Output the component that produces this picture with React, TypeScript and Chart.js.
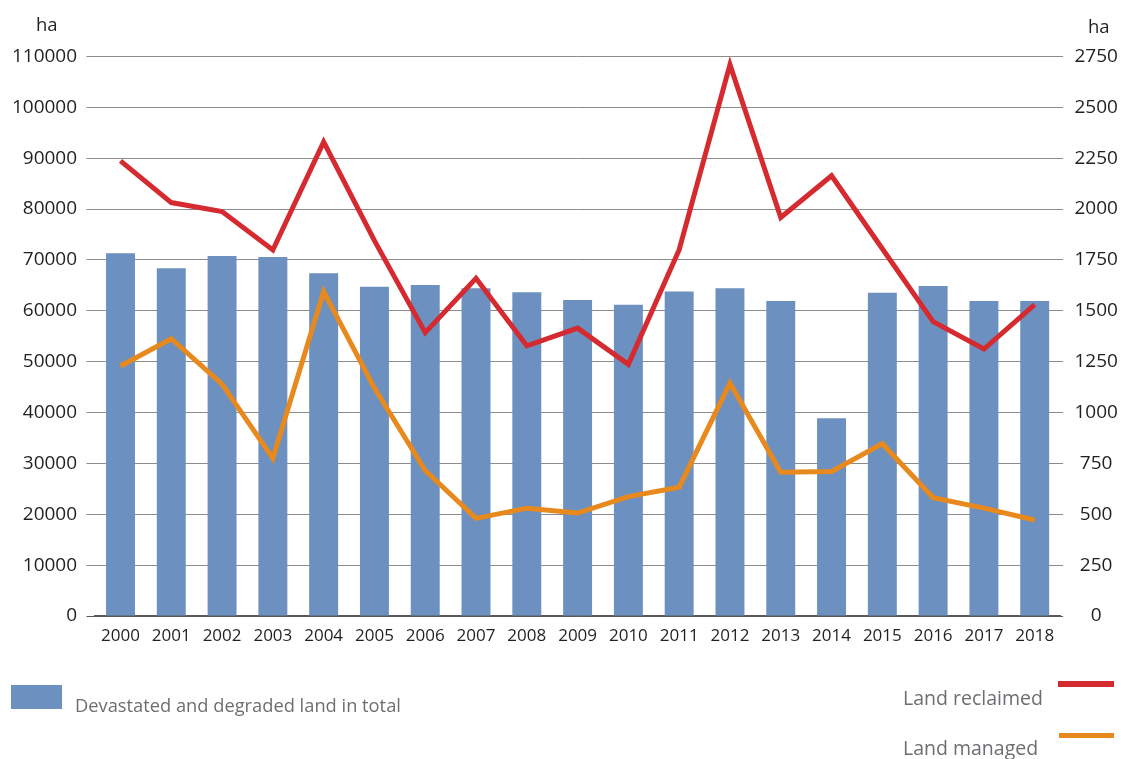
import React, { useEffect, useRef } from "react";
import { Chart, registerables } from "chart.js";

Chart.register(...registerables);

const years = ["2000", "2001", "2002", "2003", "2004", "2005", "2006", "2007", "2008", "2009", "2010", "2011", "2012", "2013", "2014", "2015", "2016", "2017", "2018"];
const devastatedLand = [71300, 68350, 70800, 70600, 67400, 64750, 65100, 64430, 63650, 62150, 61200, 63780, 64430, 61950, 38900, 63550, 64900, 61950, 61950];
const landReclaimed = [2237, 2032, 1988, 1799, 2330, 1845, 1393, 1660, 1328, 1415, 1237, 1800, 2710, 1959, 2164, 1805, 1447, 1312, 1530];
const landManaged = [1229, 1363, 1140, 775, 1595, 1120, 715, 480, 530, 506, 587, 633, 1145, 707, 710, 847, 582, 530, 472];

const leftMax = 110000;
const leftStep = 10000;
const rightMax = 2750;
const rightStep = 250;

const BAR_COLOR = "#6c90c0";
const RED = "#d52a30";
const ORANGE = "#e8891e";
const GRID = "#8c8c8c";
const AXIS = "#5a5a5a";
const TICK_TEXT = "#231f20";
const LEGEND_TEXT = "#6d6e71";
const FONT = "'Open Sans', 'Noto Sans', sans-serif";

export default function App() {
  const canvasRef = useRef<HTMLCanvasElement | null>(null);

  useEffect(() => {
    document.body.style.margin = "0";
    const canvas = canvasRef.current;
    if (!canvas) return;
    const chart = new Chart(canvas, {
      type: "bar",
      data: {
        labels: years,
        datasets: [
          {
            type: "line",
            label: "Land reclaimed",
            data: landReclaimed,
            yAxisID: "y1",
            borderColor: RED,
            backgroundColor: RED,
            borderWidth: 5,
            pointRadius: 0,
            tension: 0,
            borderJoinStyle: "miter",
            order: 0,
          },
          {
            type: "line",
            label: "Land managed",
            data: landManaged,
            yAxisID: "y1",
            borderColor: ORANGE,
            backgroundColor: ORANGE,
            borderWidth: 5,
            pointRadius: 0,
            tension: 0,
            borderJoinStyle: "miter",
            order: 1,
          },
          {
            type: "bar",
            label: "Devastated and degraded land in total",
            data: devastatedLand,
            yAxisID: "y",
            backgroundColor: BAR_COLOR,
            borderWidth: 0,
            categoryPercentage: 1,
            barPercentage: 0.57,
            order: 2,
          },
        ],
      },
      options: {
        responsive: false,
        animation: false,
        devicePixelRatio: 1,
        layout: { padding: { left: 0, right: 0, top: 56.5, bottom: 103 } },
        plugins: {
          legend: { display: false },
          tooltip: { enabled: false },
          title: { display: false },
        },
        scales: {
          x: {
            type: "category",
            offset: true,
            grid: { display: false, drawOnChartArea: false, drawTicks: false },
            border: { display: true, color: AXIS, width: 1.5 },
            ticks: {
              color: TICK_TEXT,
              font: { family: FONT, size: 17 },
              padding: 9.5,
              maxRotation: 0,
              autoSkip: false,
            },
            afterFit: (scale: any) => {
              scale.height = 40;
            },
          },
          y: {
            type: "linear",
            position: "left",
            min: 0,
            max: leftMax,
            grid: {
              color: (ctx: any) => (ctx.tick && ctx.tick.value === 0 ? AXIS : GRID),
              lineWidth: 1,
              drawTicks: true,
              tickLength: 8.6,
              tickColor: (ctx: any) => (ctx.tick && ctx.tick.value === 0 ? AXIS : GRID),
            },
            border: { display: false },
            ticks: {
              stepSize: leftStep,
              color: TICK_TEXT,
              font: { family: FONT, size: 19 },
              padding: 9.4,
              callback: (v: any) => String(v),
            },
            afterFit: (scale: any) => {
              scale.width = 95.1;
            },
          },
          y1: {
            type: "linear",
            position: "right",
            min: 0,
            max: rightMax,
            grid: {
              drawOnChartArea: false,
              drawTicks: true,
              tickLength: 3,
              color: (ctx: any) => (ctx.tick && ctx.tick.value === 0 ? AXIS : GRID),
            },
            border: { display: false },
            ticks: {
              stepSize: rightStep,
              color: TICK_TEXT,
              font: { family: FONT, size: 19 },
              padding: 11.3,
              crossAlign: "center",
              callback: (v: any) => String(v),
            },
            afterFit: (scale: any) => {
              scale.width = 60.9;
            },
          },
        },
      } as any,
    });
    return () => chart.destroy();
  }, []);

  const text = (s: string, left: number, centerY: number, size: number, color: string) => (
    <div
      style={{
        position: "absolute",
        left,
        top: centerY - size * 0.53,
        fontFamily: FONT,
        fontSize: size,
        lineHeight: `${size}px`,
        color,
        whiteSpace: "nowrap",
      }}
    >
      {s}
    </div>
  );

  return (
    <div style={{ position: "absolute", left: 0, top: 0, width: 1121, height: 759, background: "#ffffff", overflow: "hidden" }}>
      <canvas ref={canvasRef} width={1121} height={759} style={{ display: "block", width: 1121, height: 759 }} />
      {text("ha", 36, 25, 18.5, TICK_TEXT)}
      {text("ha", 1088, 27, 18.5, TICK_TEXT)}
      <div style={{ position: "absolute", left: 11, top: 685, width: 51, height: 24, background: BAR_COLOR }} />
      {text("Devastated and degraded land in total", 75, 706, 18.3, LEGEND_TEXT)}
      <div style={{ position: "absolute", left: 1058, top: 681.3, width: 56, height: 6, background: RED }} />
      {text("Land reclaimed", 903, 698, 19.5, LEGEND_TEXT)}
      <div style={{ position: "absolute", left: 1059, top: 732.5, width: 55, height: 5, background: ORANGE }} />
      {text("Land managed", 903, 748, 19.5, LEGEND_TEXT)}
    </div>
  );
}
